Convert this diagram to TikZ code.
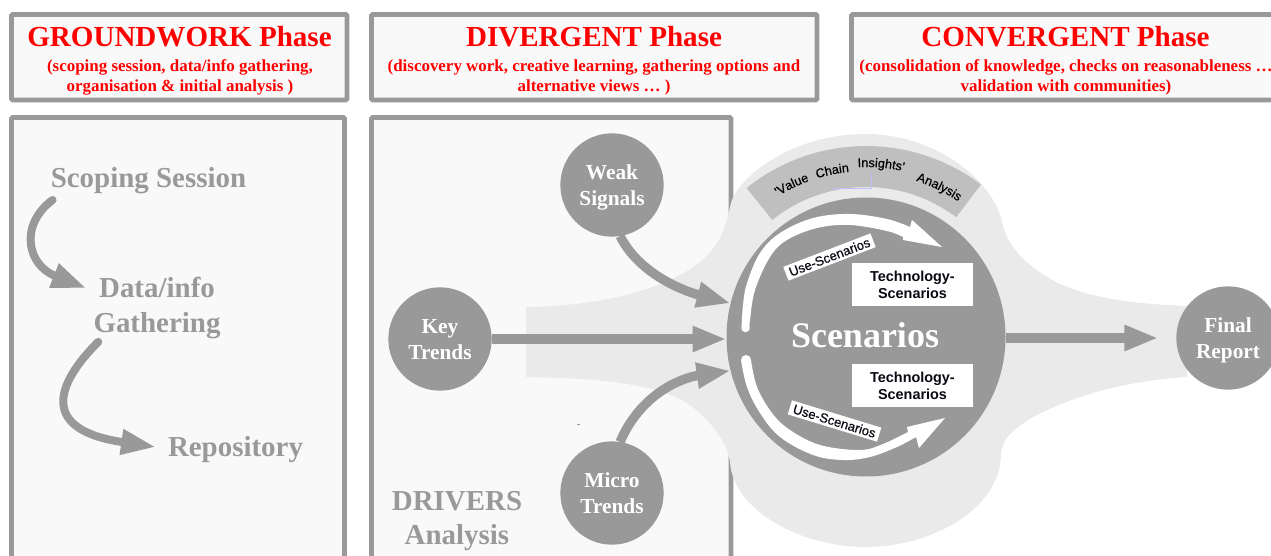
\documentclass[tikz,border=0pt]{standalone}
\usepackage{fontspec}
\setmainfont{Liberation Serif}
\newfontfamily\arialf{Liberation Sans}
\newfontfamily\arialm{Liberation Sans}[FakeBold=0.5]
\usetikzlibrary{arrows.meta,decorations.text}
\definecolor{mygray}{HTML}{999999}
\definecolor{boxfill}{HTML}{F9F9F9}
\definecolor{blobgray}{HTML}{EAEAEA}
\definecolor{bandgray}{HTML}{BFBFBF}
\definecolor{inkblack}{HTML}{0A0A14}
\tikzset{
  phasebox/.style={draw=mygray,fill=boxfill,line width=3.5pt,rounded corners=0.8pt},
  phasetitle/.style={inner sep=0,text=red,font=\bfseries\fontsize{21.8}{26}\selectfont},
  phasesub/.style={inner sep=0,text=red,align=center,font=\bfseries\fontsize{12.7}{15}\selectfont},
  graytext/.style={inner sep=0,text=mygray,align=center,font=\bfseries\fontsize{21.7}{25.8}\selectfont},
  dot/.style={circle,fill=mygray,inner sep=0,outer sep=0,minimum size=77.5pt,text=white,align=center,font=\bfseries\fontsize{16}{20}\selectfont},
  techbox/.style={fill=white,inner sep=0,outer sep=0,minimum width=91pt,minimum height=32.2pt,align=center,text=inkblack,font=\arialf\bfseries\fontsize{10.8}{12.75}\selectfont},
  uselabel/.style={fill=white,inner sep=0,minimum width=70pt,minimum height=11pt,text=inkblack,font=\arialm\fontsize{9.8}{11}\selectfont},
  bigarrow/.style={draw=mygray,line width=7pt,-{Triangle[length=25.5pt,width=18pt]}},
  smallarrow/.style={draw=mygray,line width=6pt,line cap=round,-{Triangle[length=26pt,width=18pt]}},
}
\newcommand{\twolines}[2]{\rule{0pt}{15pt}#1\\#2\rule[-4pt]{0pt}{4pt}}
\newcommand{\arcword}[3]{\path[decorate,decoration={text along path,text align=center,text={|\arialm\fontsize{9.5}{11}\selectfont|#1}}]
  plot[domain=#2+25:#2-25,samples=25] ({866+#3*cos(\x)},{337-#3*sin(\x)});}
\begin{document}
\begin{tikzpicture}[x=0.75pt,y=-0.75pt]
\clip (0,0) rectangle (1271,556);
% phase boxes
\draw[phasebox] (11.5,14.5) rectangle (347,100);
\draw[phasebox] (371.5,14.5) rectangle (817,100);
\draw[phasebox] (851.5,14.5) rectangle (1290,100);
\draw[phasebox] (11.5,117.5) rectangle (344.5,600);
\draw[phasebox] (371.5,117.5) rectangle (731,600);
% phase headings
\node[phasetitle] (t1) at (179.5,37) {GROUNDWORK Phase};
\node[phasesub] (s1) at (180,77) {(scoping session, data/info gathering,\\organisation \& initial analysis )};
\node[phasetitle] (t2) at (594,37) {DIVERGENT Phase};
\node[phasesub] (s2) at (594,77) {(discovery work, creative learning, gathering options and\\alternative views … )};
\node[phasetitle] (t3) at (1065.5,37) {CONVERGENT Phase};
\node[phasesub] (s3) at (1066,77) {(consolidation of knowledge, checks on reasonableness …\\validation with communities)};
% background blob
\fill[blobgray] (526,307) .. controls (600,306) and (665,290) .. (700,262) .. controls (722,244) and (726,225) .. (731,203)
  .. controls (738,178) and (790,134) .. (866,134) .. controls (935,134) and (993,180) .. (1002,222)
  .. controls (1008,250) and (1030,268) .. (1058,283) .. controls (1095,300) and (1140,304) .. (1187,306)
  -- (1187,377) .. controls (1140,380) and (1085,390) .. (1033,417)
  .. controls (1012,430) and (1001,440) .. (1001,455)
  .. controls (1000,510) and (930,547) .. (866,547) .. controls (800,547) and (733,510) .. (730,462)
  .. controls (728,445) and (712,420) .. (687,403) .. controls (655,384) and (600,378) .. (526,377) -- cycle;
% value chain band
\fill[bandgray] plot[domain=128.7:53,samples=30] ({866+191*cos(\x)},{337-191*sin(\x)})
  -- plot[domain=53:128.7,samples=30] ({866+150*cos(\x)},{337-150*sin(\x)}) -- cycle;
\draw[blue!25,line width=0.3pt] (833,188) -- (871,188) -- (871,173);
\arcword{'Value}{116}{166}
\arcword{Chain}{101.5}{166}
\arcword{Insights'}{85}{170}
\arcword{Analysis}{64}{164}
% nodes
\node[dot,minimum size=209.25pt] (scen) at (866,337) {};
\node[dot] (weak) at (612,185) {\twolines{Weak}{Signals}};
\node[dot] (key) at (440,339) {\twolines{Key}{Trends}};
\node[dot] (micro) at (612,493) {\twolines{Micro}{Trends}};
\node[dot] (final) at (1228,338) {\twolines{Final}{Report}};
\node[inner sep=0,text=white,font=\bfseries\fontsize{27}{30}\selectfont] (scentext) at (865,335) {Scenarios};
\node[techbox] (tech1) at (912.5,284.5) {Technology-\\Scenarios};
\node[techbox] (tech2) at (912.5,385.5) {Technology-\\Scenarios};
% white arrows in the big circle
\fill[white] plot[smooth,tension=0.6] coordinates {(741.5,328) (743,305) (747,283) (760,253) (780,233) (813,218) (850,214) (887,219) (910,227)}
  -- (912,220) -- (942,247) -- (903,240)
  -- plot[smooth,tension=0.6] coordinates {(903,237) (887,231) (850,225) (817,228) (787,240) (770,257) (755,290) (750,320) (749.5,328)} -- cycle;
\fill[white] (745.5,328) circle[radius=4.2];
\fill[white] plot[smooth,tension=0.6] coordinates {(741,360) (747,387) (760,413) (780,437) (813,455) (843,460) (870,457) (897,447) (916,437)}
  -- (919,448) -- (945,418) -- (907,427)
  -- plot[smooth,tension=0.6] coordinates {(908,432) (883,444) (860,450) (820,445) (790,430) (772,413) (757,387) (751,360)} -- cycle;
\fill[white] (746,360) circle[radius=5];
\node[uselabel,rotate=21] (use1) at (829.5,257) {Use-Scenarios};
\node[uselabel,rotate=-17] (use2) at (834.5,421) {Use-Scenarios};
% connectors
\draw[bigarrow] (weak.279) .. controls (638,272) and (680,290) .. (scen.166.3);
\draw[bigarrow] (key.east) -- (scen.west |- key);
\draw[bigarrow] (micro.81) .. controls (640,395) and (680,378) .. (scen.194);
\draw[bigarrow,shorten >=13.5pt] (scen.east |- final) -- (final.west);
% groundwork column
\node[graytext] (scoping) at (148.5,180.5) {Scoping Session};
\node[graytext] (data) at (157,308) {Data/info\\Gathering};
\node[graytext] (repo) at (235.5,450) {Repository};
\node[graytext] (drivers) at (457,521) {DRIVERS\\Analysis};
\draw[smallarrow] ([shift={(2,6)}]scoping.south west) .. controls (19,225) and (27,265) .. ([shift={(-7,11)}]data.north west);
\draw[smallarrow] ([shift={(5,3)}]data.south west) .. controls (55,385) and (40,430) .. ([shift={(-12,-3)}]repo.west);
\fill[mygray] (577,424) rectangle (580,425);
\end{tikzpicture}
\end{document}
